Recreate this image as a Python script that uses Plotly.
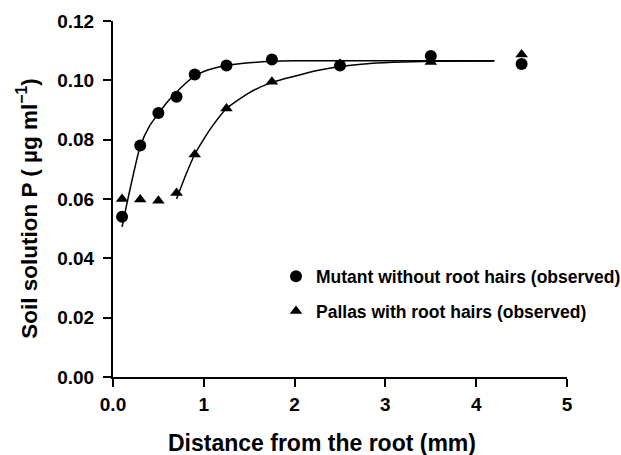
import plotly.graph_objects as go

# Observed data
obs_x = [0.1, 0.3, 0.5, 0.7, 0.9, 1.25, 1.75, 2.5, 3.5, 4.5]
mutant_y = [0.054, 0.078, 0.089, 0.0945, 0.102, 0.105, 0.107, 0.105, 0.1082, 0.1055]
pallas_y = [0.060, 0.0598, 0.0594, 0.062, 0.075, 0.0905, 0.0995, 0.1055, 0.1062, 0.1087]

# Fitted (model) curves
mutant_fit_x = [0.1, 0.15, 0.2, 0.3, 0.4, 0.5, 0.6, 0.7, 0.8, 0.9, 1.0, 1.25, 1.5, 1.75, 2.0, 2.5, 3.0, 4.2]
mutant_fit_y = [0.0506, 0.058, 0.065, 0.0778, 0.0845, 0.0888, 0.0928, 0.096, 0.099, 0.1015, 0.103, 0.105,
                0.1059, 0.1064, 0.1066, 0.1066, 0.1066, 0.1066]
pallas_fit_x = [0.7, 0.8, 0.9, 1.0, 1.1, 1.25, 1.5, 1.75, 2.0, 2.25, 2.5, 2.83, 3.2, 3.6, 4.2]
pallas_fit_y = [0.060, 0.068, 0.075, 0.0802, 0.0848, 0.0905, 0.0958, 0.0993, 0.1014, 0.1033, 0.1047,
                0.1057, 0.1062, 0.1064, 0.1065]

x_tickvals = [0, 1, 2, 3, 4, 5]
x_ticktext = ["0.0", "1", "2", "3", "4", "5"]
y_tickvals = [0.0, 0.02, 0.04, 0.06, 0.08, 0.10, 0.12]

FONT = "Arial, Liberation Sans, sans-serif"

fig = go.Figure()
fig.add_trace(go.Scatter(x=mutant_fit_x, y=mutant_fit_y, mode="lines",
                         line=dict(color="black", width=1.5, shape="spline", smoothing=0.6),
                         showlegend=False, hoverinfo="skip"))
fig.add_trace(go.Scatter(x=pallas_fit_x, y=pallas_fit_y, mode="lines",
                         line=dict(color="black", width=1.5, shape="spline", smoothing=0.6),
                         showlegend=False, hoverinfo="skip"))
fig.add_trace(go.Scatter(x=obs_x, y=mutant_y, mode="markers", name="Mutant without root hairs (observed)",
                         legendgroup="a",
                         marker=dict(symbol="circle", size=12, color="black")))
fig.add_trace(go.Scatter(x=obs_x, y=pallas_y, mode="markers", name="Pallas with root hairs (observed)",
                         legendgroup="b",
                         marker=dict(symbol="triangle-up", size=11, color="black")))

axis_common = dict(
    showline=True, linecolor="black", linewidth=2,
    ticks="outside", ticklen=8, tickwidth=2, tickcolor="black",
    showgrid=False, zeroline=False,
    tickfont=dict(family=FONT, size=19, color="black", weight="bold"),
)

fig.update_xaxes(range=[0, 5], tickvals=x_tickvals, ticktext=x_ticktext, ticklabelstandoff=1, **axis_common)
fig.update_yaxes(range=[0, 0.12], tickvals=y_tickvals, tickformat=".2f", ticklabelstandoff=5, **axis_common)

fig.update_layout(
    width=621, height=455,
    margin=dict(l=113, r=54, t=21, b=78, autoexpand=False),
    paper_bgcolor="white", plot_bgcolor="white",
    showlegend=True,
    legend=dict(x=(276 - 113) / 454, y=(376.7 - 258) / 356, xanchor="left", yanchor="top",
                bgcolor="rgba(0,0,0,0)", borderwidth=0, itemwidth=30,
                traceorder="grouped", tracegroupgap=9,
                font=dict(family=FONT, size=17.5, color="black", weight="bold")),
    annotations=[
        dict(text="Distance from the root (mm)", xref="paper", yref="paper",
             x=(322 - 113) / 454, y=(376.7 - 443) / 356, xanchor="center", yanchor="middle",
             showarrow=False, font=dict(family=FONT, size=23, color="black", weight="bold")),
        dict(text="Soil solution P ( µg ml<sup>−1</sup>)", xref="paper", yref="paper",
             x=(27 - 113) / 454, y=(376.7 - 208.5) / 356, xanchor="center", yanchor="middle",
             textangle=-90, showarrow=False,
             font=dict(family=FONT, size=22.5, color="black", weight="bold")),
    ],
)

fig.write_html("out.html")
